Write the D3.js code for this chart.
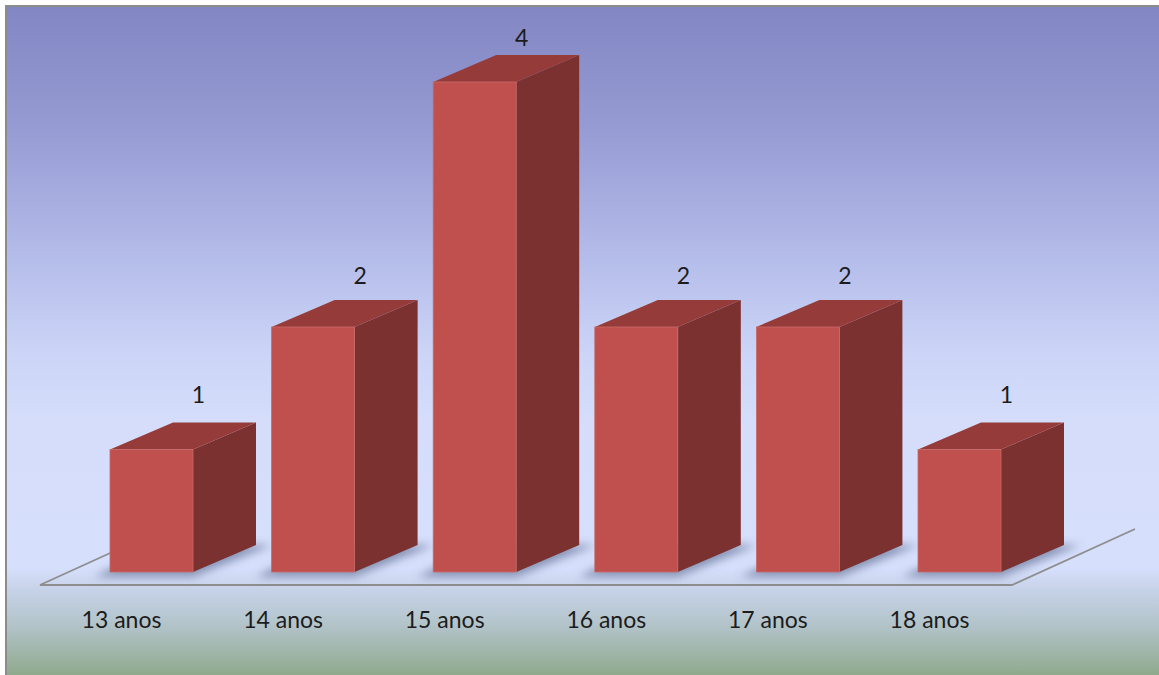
<!DOCTYPE html>
<html>
<head>
<meta charset="utf-8">
<script src="https://cdn.jsdelivr.net/npm/d3@7"></script>
<style>
  html, body { margin: 0; padding: 0; background: #ffffff; }
  svg { display: block; }
  text { font-family: Lato, "Open Sans", sans-serif; fill: #1c1c1c; }
</style>
</head>
<body>
<svg id="chart" width="1159" height="675"></svg>
<script>
// Age groups and how many students fall into each
const categories = ["13 anos", "14 anos", "15 anos", "16 anos", "17 anos", "18 anos"];
const counts = [1, 2, 4, 2, 2, 1];
const yMax = 4;

const W = 1159, H = 675;
const svg = d3.select("#chart");
const defs = svg.append("defs");

// Backdrop gradient: blue-violet at the top fading to pale blue, then sage green below the floor
const bg = defs.append("linearGradient").attr("id", "bg").attr("x1", 0).attr("y1", 0).attr("x2", 0).attr("y2", 1);
[[0, "#8286c3"], [0.18, "#969bd3"], [0.38, "#b5bdea"], [0.52, "#ccd5f7"], [0.62, "#d5ddfb"],
 [0.84, "#d6dffb"], [0.87, "#c8d3ea"], [0.93, "#b0c2c6"], [1, "#8fa98d"]]
  .forEach(([o, c]) => bg.append("stop").attr("offset", o).attr("stop-color", c));

const blur = defs.append("filter").attr("id", "soft").attr("x", "-30%").attr("y", "-30%").attr("width", "160%").attr("height", "160%");
blur.append("feGaussianBlur").attr("stdDeviation", 4);

// Frame: grey rule on the top and left edges
svg.append("rect").attr("x", 0).attr("y", 0).attr("width", W).attr("height", H).attr("fill", "#ffffff");
svg.append("rect").attr("x", 5).attr("y", 5).attr("width", W - 5).attr("height", H - 5).attr("fill", "#8c8c8c");
svg.append("rect").attr("x", 7).attr("y", 7).attr("width", W - 7).attr("height", H - 7).attr("fill", "url(#bg)");

// Projection of the 3-D box: depth shifts right and up
const depth = { dx: 63, dy: -27 };
const barW = 83;

const x = d3.scalePoint().domain(categories).range([151.5, 959.5]);
const y = d3.scaleLinear().domain([0, yMax]).range([572, 82]);
const yLabel = d3.scaleLinear().domain([0, yMax]).range([522, 46]);

// Floor outline (front edge and the two receding sides)
const floorFront = y(0) + 13;
const fl = x(categories[0]) - barW / 2 - 70;
const fr = x(categories[categories.length - 1]) + barW / 2 + 11;
const floorDepth = { dx: 123, dy: -56 };
svg.append("path")
  .attr("d", d3.line()([
    [fl + floorDepth.dx, floorFront + floorDepth.dy],
    [fl, floorFront],
    [fr, floorFront],
    [fr + floorDepth.dx, floorFront + floorDepth.dy]
  ]))
  .attr("fill", "none")
  .attr("stroke", "#8e8e8e")
  .attr("stroke-width", 1.8);

const data = categories.map((c, i) => ({ cat: c, v: counts[i] }));

// Soft shadows cast by each column onto the floor
svg.append("g").attr("filter", "url(#soft)")
  .selectAll("path").data(data).join("path")
  .attr("d", d => {
    const l = x(d.cat) - barW / 2 - 16, r = x(d.cat) + barW / 2, b = y(0) + 5;
    return d3.line()([[l, b], [r, b], [r + depth.dx + 16, b + depth.dy - 5], [l + depth.dx, b + depth.dy - 5]]) + "Z";
  })
  .attr("fill", "#5f6c90")
  .attr("opacity", 0.65);

const bars = svg.append("g").selectAll("g").data(data).join("g");

// Right side face
bars.append("path")
  .attr("d", d => {
    const r = x(d.cat) + barW / 2, t = y(d.v), b = y(0);
    return d3.line()([[r, b], [r, t], [r + depth.dx, t + depth.dy], [r + depth.dx, b + depth.dy]]) + "Z";
  })
  .attr("fill", "#7b3130");

// Top face
bars.append("path")
  .attr("d", d => {
    const l = x(d.cat) - barW / 2, r = x(d.cat) + barW / 2, t = y(d.v);
    return d3.line()([[l, t], [r, t], [r + depth.dx, t + depth.dy], [l + depth.dx, t + depth.dy]]) + "Z";
  })
  .attr("fill", "#953c3a");

// Front face
bars.append("rect")
  .attr("x", d => x(d.cat) - barW / 2)
  .attr("y", d => y(d.v))
  .attr("width", barW)
  .attr("height", d => y(0) - y(d.v))
  .attr("fill", "#c0504d")
  .attr("stroke", "#c76a68")
  .attr("stroke-width", 0.8);

// Value labels above each column
svg.append("g").selectAll("text").data(data).join("text")
  .attr("x", d => x(d.cat) + 47)
  .attr("y", d => yLabel(d.v))
  .attr("text-anchor", "middle")
  .attr("font-size", 23)
  .text(d => d.v);

// Category labels under the floor
svg.append("g").selectAll("text").data(categories).join("text")
  .attr("x", d => x(d) - 30)
  .attr("y", 628)
  .attr("text-anchor", "middle")
  .attr("font-size", 23)
  .text(d => d);
</script>
</body>
</html>
